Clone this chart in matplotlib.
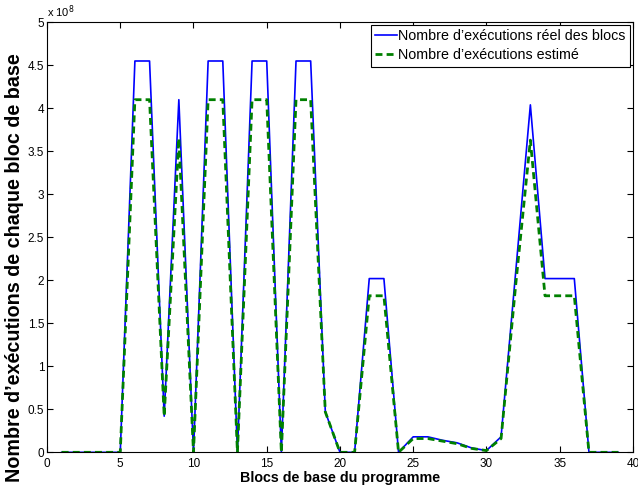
import numpy as np
import matplotlib
matplotlib.use("Agg")
import matplotlib.pyplot as plt

plt.rcParams['font.family'] = ['Liberation Sans', 'DejaVu Sans']

# blocs de base 1..39, valeurs en unites de 1e8
blocs = list(range(1, 40))
reel = [0, 0, 0, 0, 0, 4.55, 4.55, 0.42, 4.10, 0,
        4.55, 4.55, 0, 4.55, 4.55, 0, 4.55, 4.55, 0.47, 0,
        0, 2.02, 2.02, 0, 0.18, 0.18, 0.14, 0.11, 0.05, 0.02,
        0.18, 2.10, 4.04, 2.02, 2.02, 2.02, 0, 0, 0]
estime = [0, 0, 0, 0, 0, 4.10, 4.10, 0.42, 3.65, 0,
          4.10, 4.10, 0, 4.10, 4.10, 0, 4.10, 4.10, 0.47, 0,
          0, 1.82, 1.82, 0, 0.16, 0.16, 0.13, 0.10, 0.045, 0.02,
          0.16, 1.95, 3.63, 1.82, 1.82, 1.82, 0, 0, 0]

fig = plt.figure(figsize=(6.38, 4.91), dpi=100)
ax = fig.add_axes([0.0737, 0.0788, 0.9183, 0.8758])

ax.plot(blocs, reel, color='blue', lw=1.2, label='Nombre d\u2019ex\u00e9cutions r\u00e9el des blocs')
ax.plot(blocs, estime, color=(0, 0.5, 0), lw=2, ls=(0, (2.5, 1.5)),
        label='Nombre d\u2019ex\u00e9cutions estim\u00e9')

ax.set_xlim(0, 40)
ax.set_ylim(0, 5)
ax.set_xticks(np.arange(0, 41, 5))
ax.set_yticks(np.arange(0, 5.01, 0.5))
ax.set_yticklabels(['0', '0.5', '1', '1.5', '2', '2.5', '3', '3.5', '4', '4.5', '5'])
ax.tick_params(direction='in', top=True, right=True, length=4.3, width=0.8, labelsize=8.5)
ax.tick_params(axis='x', pad=4)
ax.tick_params(axis='y', pad=2)
for s in ax.spines.values():
    s.set_linewidth(0.8)

ax.text(0.0, 1.006, 'x 10$^{8}$', transform=ax.transAxes, fontsize=8, ha='left', va='bottom')

ax.set_xlabel('Blocs de base du programme', fontsize=10.3, fontweight='bold', labelpad=1)
ax.set_ylabel('Nombre d\u2019ex\u00e9cutions de chaque bloc de base', fontsize=14.2,
              fontweight='bold')
ax.yaxis.set_label_coords(-0.039, 0.4286)

leg = ax.legend(loc='upper right', fontsize=10.3, fancybox=False, framealpha=1, edgecolor='black',
                borderpad=0.3, labelspacing=0.35, handlelength=1.5, handletextpad=0.1,
                borderaxespad=0.2)
leg.get_frame().set_linewidth(0.8)

fig.savefig('out.png', dpi=100)
